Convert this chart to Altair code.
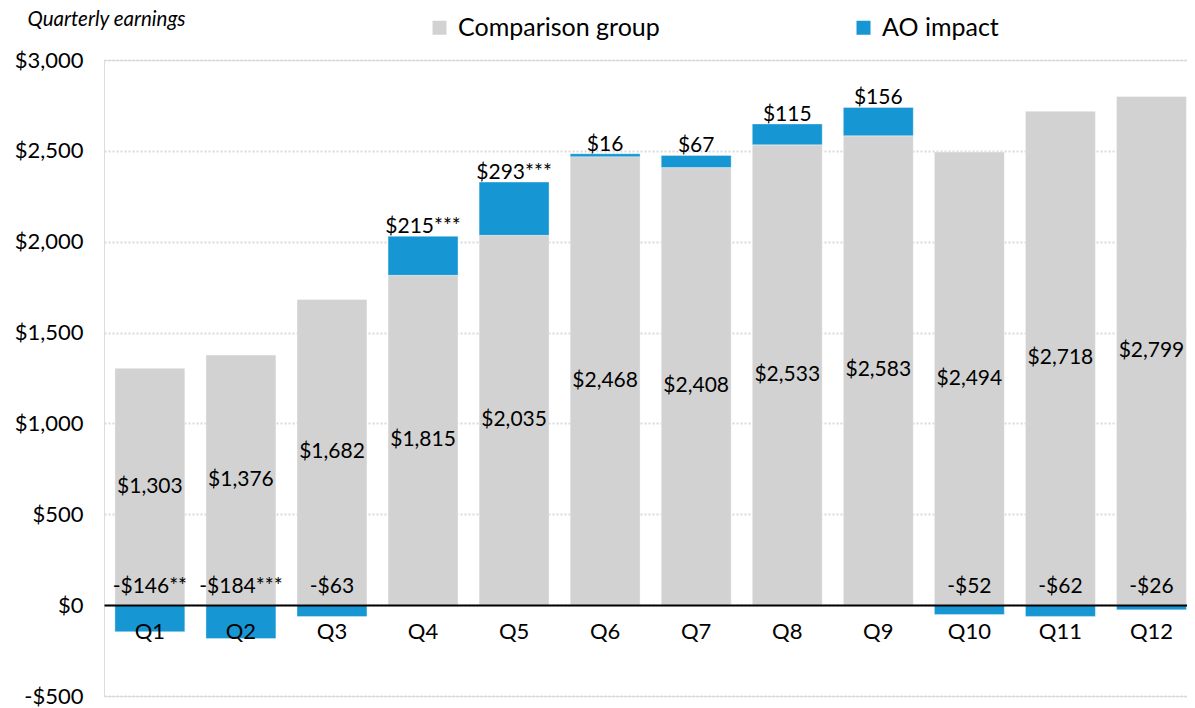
import altair as alt
import pandas as pd

quarters = ["Q1", "Q2", "Q3", "Q4", "Q5", "Q6", "Q7", "Q8", "Q9", "Q10", "Q11", "Q12"]
comparison = [1303, 1376, 1682, 1815, 2035, 2468, 2408, 2533, 2583, 2494, 2718, 2799]
impact = [-146, -184, -63, 215, 293, 16, 67, 115, 156, -52, -62, -26]
stars = ["**", "***", "", "***", "***", "", "", "", "", "", "", ""]

series_names = ["Comparison group", "AO impact"]
series_colors = ["#d2d2d2", "#1696d2"]


def money(v):
    return ("-$" if v < 0 else "$") + f"{abs(v):,}"


rows = []
for q, c, i, s in zip(quarters, comparison, impact, stars):
    rows.append({"quarter": q, "series": series_names[0], "comp": c, "imp": i,
                 "order": 0, "label": money(c), "stars": s})
    rows.append({"quarter": q, "series": series_names[1], "comp": c, "imp": i,
                 "order": 1, "label": money(i) + s, "stars": s})
df = pd.DataFrame(rows)

FONT = "Lato"
PLOT_W = 1083

x_scale = alt.Scale(paddingInner=0.232, paddingOuter=0.063, align=0.95)

x_enc = alt.X(
    "quarter:N",
    sort=quarters,
    scale=x_scale,
    axis=alt.Axis(
        title=None,
        orient="bottom",
        offset=-91,
        domain=True,
        domainColor="#000000",
        domainWidth=2,
        ticks=False,
        labelFont=FONT,
        labelFontSize=22,
        labelColor="#000000",
        labelPadding=16,
        labelAngle=0,
        zindex=2,
    ),
)

y_scale = alt.Scale(domain=[-500, 3000], nice=False)

bars = (
    alt.Chart(df)
    .transform_calculate(
        y0="datum.order == 0 ? 0 : (datum.imp > 0 ? datum.comp : 0)",
        y1="datum.order == 0 ? datum.comp : (datum.imp > 0 ? datum.comp + datum.imp : datum.imp)",
    )
    .mark_bar(stroke="#ffffff", strokeWidth=0.6, strokeOpacity=0.6)
    .encode(
        x=x_enc,
        y=alt.Y(
            "y0:Q",
            scale=y_scale,
            axis=alt.Axis(
                values=[-500, 0, 500, 1000, 1500, 2000, 2500, 3000],
                labelExpr="datum.value < 0 ? '-$' + format(-datum.value, ',') : '$' + format(datum.value, ',')",
                labelFont=FONT,
                labelFontSize=22,
                labelColor="#000000",
                labelPadding=21,
                domain=False,
                ticks=False,
                grid=True,
                gridDash=[2, 2],
                gridColor="#d9d9d9",
                gridWidth=2,
                title="Quarterly earnings",
                titleFont=FONT,
                titleFontStyle="italic",
                titleFontWeight="normal",
                titleFontSize=20.5,
                titleColor="#000000",
                titleAngle=0,
                titleAlign="left",
                titleBaseline="alphabetic",
                titleX=-77,
                titleY=-35,
            ),
        ),
        y2="y1:Q",
        color=alt.Color(
            "series:N",
            scale=alt.Scale(domain=series_names, range=series_colors),
            legend=alt.Legend(
                title=None,
                orient="none",
                direction="horizontal",
                legendX=323,
                legendY=-45,
                symbolType="square",
                symbolSize=196,
                symbolStrokeWidth=0,
                labelFont=FONT,
                labelFontSize=25,
                labelColor="#000000",
                labelOffset=6,
                labelLimit=400,
                columnPadding=191,
            ),
        ),
        order="order:Q",
    )
)

comp_labels = (
    alt.Chart(df)
    .transform_filter("datum.order == 0")
    .transform_calculate(ymid="datum.comp / 2")
    .mark_text(font=FONT, fontSize=21, color="#000000", baseline="middle")
    .encode(x=alt.X("quarter:N", sort=quarters, scale=x_scale), y=alt.Y("ymid:Q", scale=y_scale), text="label:N")
)

pos_labels = (
    alt.Chart(df)
    .transform_filter("datum.order == 1 && datum.imp > 0")
    .transform_calculate(ytop="datum.comp + datum.imp")
    .mark_text(font=FONT, fontSize=21, color="#000000", baseline="alphabetic", dy=-3)
    .encode(x=alt.X("quarter:N", sort=quarters, scale=x_scale), y=alt.Y("ytop:Q", scale=y_scale), text="label:N")
)

neg_labels = (
    alt.Chart(df)
    .transform_filter("datum.order == 1 && datum.imp < 0")
    .transform_calculate(ytop="0")
    .mark_text(font=FONT, fontSize=21, color="#000000", baseline="alphabetic", dy=-12)
    .encode(x=alt.X("quarter:N", sort=quarters, scale=x_scale), y=alt.Y("ytop:Q", scale=y_scale), text="label:N")
)

chart = (
    alt.layer(bars, comp_labels, pos_labels, neg_labels)
    .properties(
        width=PLOT_W,
        height=636,
        autosize=alt.AutoSizeParams(type="none"),
        padding={"left": 96, "right": 0, "top": 52, "bottom": 12},
    )
    .configure_view(stroke=None)
    .configure(font=FONT)
)

chart.save("out.html", embed_options={"renderer": "svg", "actions": False})
